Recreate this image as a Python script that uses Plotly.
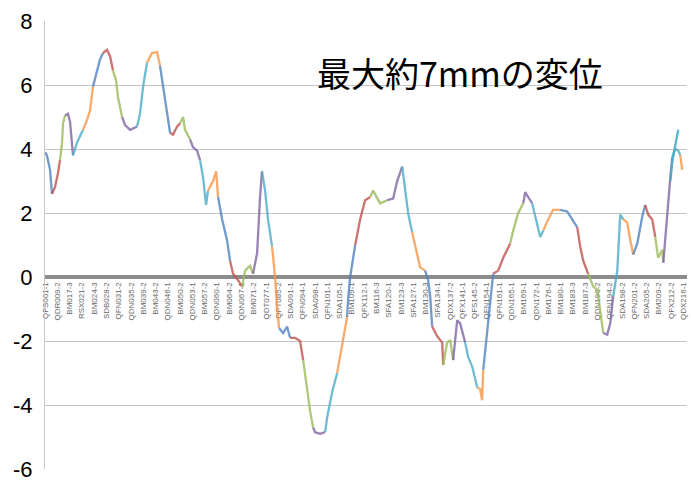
import plotly.graph_objects as go

# Monitoring-point labels shown along the x axis
labels = ["QFS001-1", "QDR009-2", "BM017-3", "RSX021-2", "BM024-3", "SDB028-2", "QFN031-2",
          "QDN035-2", "BM039-2", "BM043-2", "QDN046-1", "BM050-2", "QDN053-1", "BM057-2",
          "QDN060-1", "BM064-2", "QDN067-1", "BM071-2", "QDT077-1", "QFT085-2", "SDA091-1",
          "QFN094-1", "SDA098-1", "QFN101-1", "SDA105-1", "BM109-1", "QFX112-1", "BM116-3",
          "SFA120-1", "BM123-3", "SFA127-1", "BM130-3", "SFA134-1", "QDX137-2", "QFX141-1",
          "QFS145-2", "QFN154-1", "QFN161-1", "QDN165-1", "BM169-1", "QDN172-1", "BM176-1",
          "BM180-1", "BM183-3", "BM187-3", "QDN190-2", "QFN194-2", "SDA198-2", "QFN201-2",
          "SDA205-2", "BM209-2", "QFX212-2", "QDX216-1"]

# Y-axis ticks
y_ticks = [-6, -4, -2, 0, 2, 4, 6, 8]
y_tick_text = ["-6", "-4", "-2", "0", "2", "4", "6", "8"]

# Position along the line (in label-index units) and displacement (mm)
station = [0.00, 0.16, 0.41, 0.57, 0.81, 1.06, 1.22, 1.39, 1.47, 1.63, 1.87, 2.04, 2.28, 2.61,
           2.85, 3.10, 3.42, 3.67, 3.91, 4.24, 4.48, 4.73, 5.05, 5.30, 5.54, 5.79, 5.95, 6.28,
           6.52, 6.93, 7.50, 7.74, 7.99, 8.31, 8.72, 9.13, 9.37, 9.62, 9.94, 10.19, 10.43,
           10.76, 11.00, 11.25, 11.41, 11.82, 12.06, 12.39, 12.63, 12.88, 13.12, 13.28, 13.69,
           13.94, 14.10, 14.43, 14.83, 15.08, 15.32, 15.73, 16.06, 16.30, 16.71, 16.95, 17.28,
           17.52, 17.68, 17.93, 18.17, 18.50, 18.74, 18.91, 19.07, 19.40, 19.72, 19.97, 20.37,
           20.78, 21.03, 21.27, 21.60, 21.84, 22.00, 22.41, 22.82, 22.98, 23.39, 23.80, 24.04,
           24.29, 24.61, 24.69, 24.86, 25.27, 25.67, 26.08, 26.49, 26.73, 27.30, 27.87, 28.36,
           28.69, 29.10, 29.34, 29.58, 29.91, 30.32, 30.56, 30.97, 31.21, 31.38, 31.54, 31.95,
           32.36, 32.44, 32.76, 33.01, 33.25, 33.58, 33.82, 34.23, 34.47, 34.80, 35.21, 35.45,
           35.61, 35.70, 36.02, 36.27, 36.51, 36.92, 37.33, 37.90, 38.14, 38.55, 38.96, 39.12,
           39.36, 39.69, 39.93, 40.34, 40.59, 40.99, 41.40, 41.97, 42.54, 42.95, 43.36, 43.60,
           43.85, 44.25, 44.66, 44.99, 45.48, 45.80, 46.05, 46.29, 46.62, 46.86, 47.11, 47.43,
           47.68, 47.92, 48.25, 48.66, 48.90, 49.14, 49.47, 49.71, 49.95, 50.29, 50.37, 50.69,
           50.94, 51.10, 51.34, 51.59, 51.75, 51.91]
disp = [3.9, 3.8, 3.35, 2.6, 2.8, 3.25, 3.65, 4.2, 4.8, 5.05, 5.1, 4.85, 3.8, 4.2,
        4.4, 4.6, 4.9, 5.2, 5.95, 6.45, 6.8, 7.0, 7.1, 6.9, 6.45, 6.15, 5.6, 5.0,
        4.75, 4.6, 4.7, 5.1, 5.95, 6.7, 7.0, 7.03, 6.6, 5.95, 5.0, 4.5, 4.45,
        4.7, 4.8, 5.0, 4.6, 4.3, 4.05, 3.95, 3.65, 3.1, 2.25, 2.7, 3.0,
        3.3, 2.5, 1.8, 1.15, 0.5, 0.1, -0.1, -0.3, 0.2, 0.35, 0.1, 0.75,
        2.5, 3.3, 2.7, 1.8, 0.95, 0.0, -1.0, -1.6, -1.75, -1.55, -1.9, -1.9,
        -2.0, -2.6, -3.3, -4.2, -4.7, -4.85, -4.9, -4.85, -4.4, -3.6, -3.0, -2.5,
        -1.97, -1.25, -0.7, 0.0, 1.0, 1.8, 2.4, 2.5, 2.7, 2.3, 2.4, 2.45,
        3.0, 3.45, 2.8, 2.0, 1.4, 0.75, 0.3, 0.2, -0.1, -0.6, -1.55, -1.85,
        -2.05, -2.75, -2.05, -1.97, -2.6, -1.35, -1.45, -2.05, -2.5, -2.8, -3.45, -3.5,
        -3.85, -2.9, -1.75, -0.7, 0.1, 0.2, 0.6, 1.05, 1.45, 2.0, 2.3, 2.65,
        2.5, 2.3, 1.9, 1.25, 1.45, 1.8, 2.1, 2.1, 2.05, 1.8, 1.55, 0.95,
        0.5, 0.1, -0.3, -0.4, -1.75, -1.8, -1.45, -0.6, 0.2, 1.95, 1.8, 1.7,
        1.15, 0.7, 1.05, 1.9, 2.25, 1.95, 1.8, 1.25, 0.6, 0.85, 0.45, 2.1,
        3.1, 3.75, 4.0, 3.95, 3.8, 3.35]

# Secondary overlapping branch at the end of the line
end_station = [50.94, 51.10, 51.34, 51.59]
end_disp = [3.0, 3.6, 4.1, 4.6]

palette = ["#4F81BD", "#C0504D", "#9BBB59", "#8064A2", "#4BACC6", "#F79646"]

fig = go.Figure()
chunk = 3
k = 0
start = 0
while start < len(station) - 1:
    end = min(start + chunk, len(station) - 1)
    fig.add_trace(go.Scatter(
        x=station[start:end + 1], y=disp[start:end + 1], mode="lines",
        line=dict(color=palette[k % len(palette)], width=2.3),
        opacity=0.8, showlegend=False, hoverinfo="skip"))
    k += 1
    start = end

fig.add_trace(go.Scatter(x=end_station, y=end_disp, mode="lines",
                         line=dict(color="#4BACC6", width=2.3), opacity=0.9,
                         showlegend=False, hoverinfo="skip"))

fig.add_annotation(text="最大約7mmの変位", x=0.647, y=0.886, xref="paper", yref="paper",
                   showarrow=False, xanchor="center", yanchor="middle",
                   font=dict(family="Noto Sans CJK JP", size=34, color="#000000"))

fig.update_layout(
    width=691, height=490,
    margin=dict(l=45, r=4, t=21, b=21),
    paper_bgcolor="white", plot_bgcolor="white",
    xaxis=dict(range=[0, 52.3], tickmode="array", tickvals=list(range(len(labels))),
               ticktext=labels, tickangle=-90, showgrid=False, zeroline=False,
               anchor="free", position=6 / 14, showline=True, linecolor="#8c8c8c",
               linewidth=4, layer="below traces", ticks="",
               tickfont=dict(family="Liberation Sans", size=8, color="#666666")),
    yaxis=dict(range=[-6, 8], tickmode="array", tickvals=y_ticks, ticktext=y_tick_text,
               showgrid=True, gridcolor="#c4c4c4", gridwidth=1,
               zeroline=False, showline=True, linecolor="#c8c8c8", linewidth=1,
               ticks="", ticklabelstandoff=7,
               tickfont=dict(family="Liberation Sans", size=22, color="#000000")),
)

fig.write_html("out.html")
